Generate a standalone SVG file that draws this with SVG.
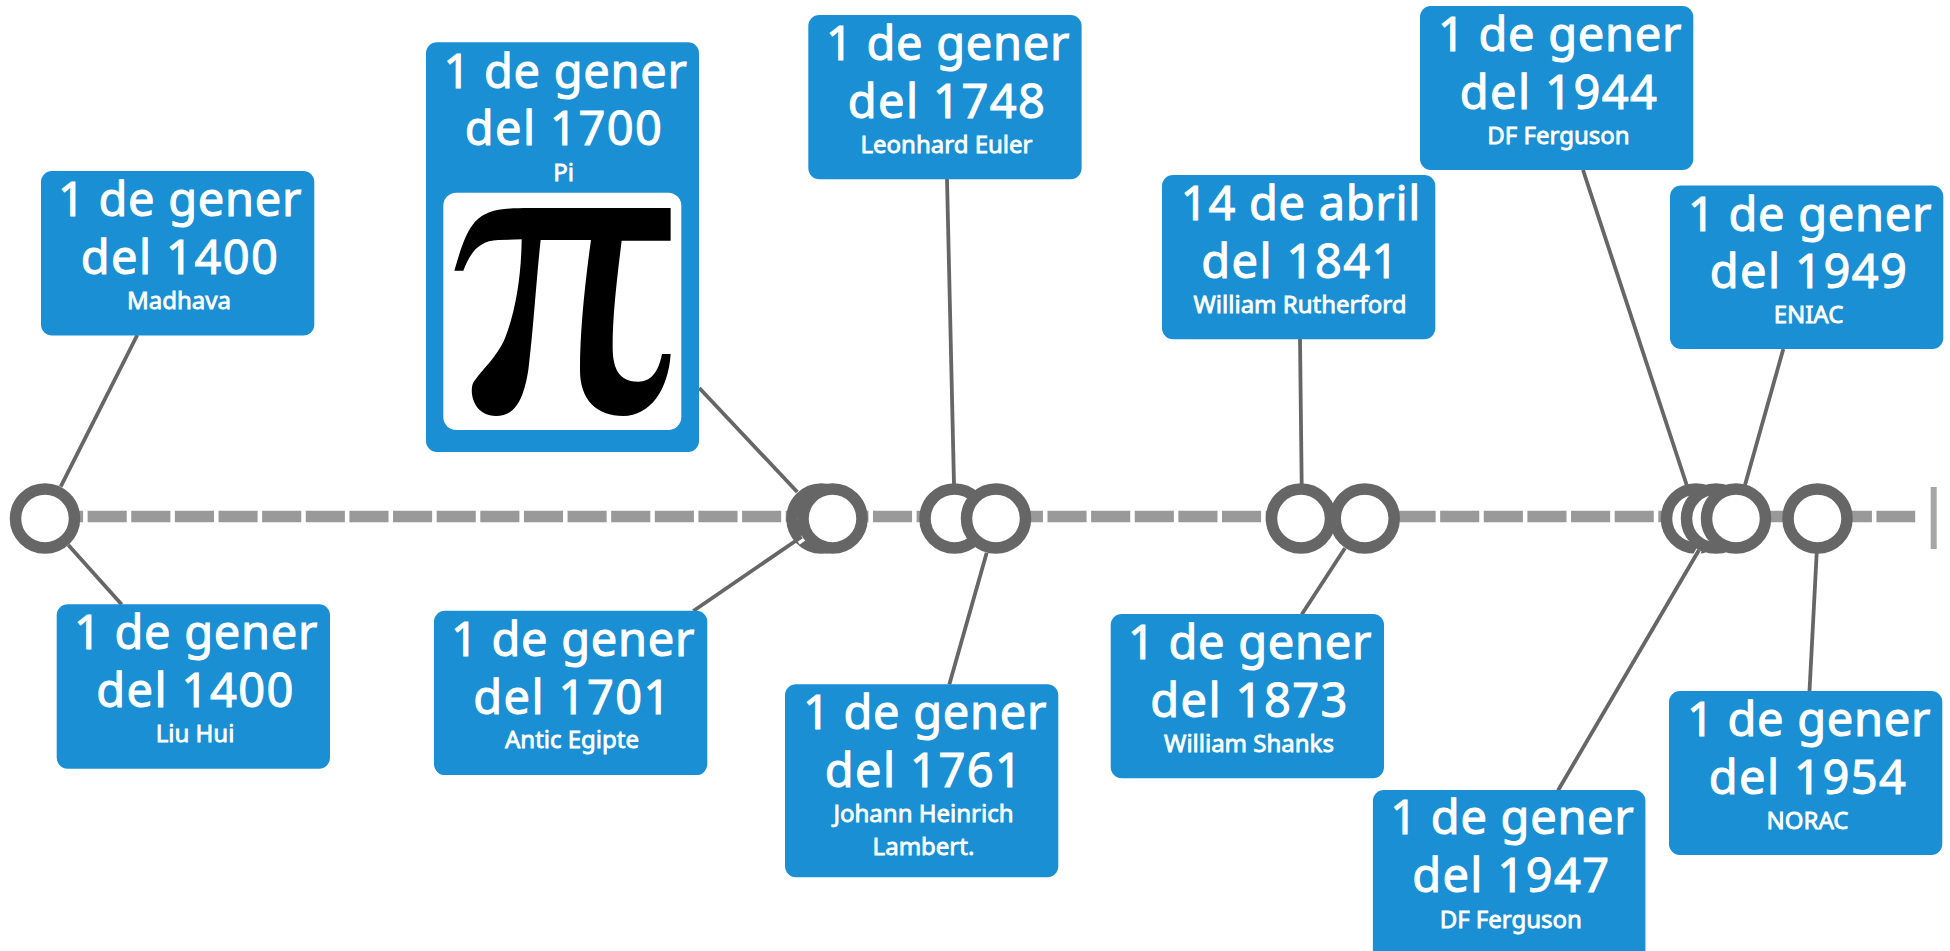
<svg xmlns="http://www.w3.org/2000/svg" width="1950" height="951" viewBox="0 0 1950 951">
<style>
.box{fill:#1a8fd3}
.big{font:47px "Noto Sans",sans-serif;fill:#fff;stroke:#fff;stroke-width:1;text-anchor:middle;letter-spacing:.7px;transform:translateY(1px)}
.yr{letter-spacing:1.4px}
.small{font:24px "Noto Sans",sans-serif;fill:#fff;stroke:#fff;stroke-width:.8;text-anchor:middle;transform:translateY(1.500px)}
.conn{stroke:#666;stroke-width:3.800;fill:none}
.halo{stroke:#fff;stroke-width:6;fill:none}
.ring{fill:#fff;stroke:#666;stroke-width:11.500}
</style>
<rect width="1950" height="951" fill="#fff"/>
<g id="timeline">
<path d="M44 516.500H1915.200" stroke="#999" stroke-width="11.600" stroke-dasharray="39.100 4.530" fill="none"/>
<path d="M1933.700 487V549" stroke="#a6a6a6" stroke-width="6"/>
</g>
<g id="markers-back">
<circle class="ring" cx="821.500" cy="518.500" r="29.500"/>
<circle class="ring" cx="954.500" cy="518.500" r="29.500"/>
<circle class="ring" cx="1301" cy="518.500" r="29.500"/>
<circle class="ring" cx="1696" cy="518.500" r="29.500"/>
</g>
<g id="connectors">
<path class="halo" d="M805 537L798 542"/><path class="halo" d="M1699 550L1689 568"/>
<path class="conn" d="M137.300 335L60.700 486.700"/><path class="conn" d="M68.300 545L121.700 604.500"/>
<path class="conn" d="M699.300 388L797.300 492"/><path class="conn" d="M801.700 536.700L693.300 611"/>
<path class="conn" d="M947 179L954 484"/><path class="conn" d="M986.700 552.700L949.300 684.500"/>
<path class="conn" d="M1300 339L1301.700 484"/><path class="conn" d="M1344.900 548.300L1301.700 614.500"/>
<path class="conn" d="M1583 170L1686.700 485"/><path class="conn" d="M1699 550L1558 790.500"/>
<path class="conn" d="M1783.300 349L1745 485"/><path class="conn" d="M1816.700 553L1809.500 691"/>
</g>
<g id="markers-front">
<circle class="ring" cx="45" cy="518.500" r="29.500"/>
<circle class="ring" cx="832.500" cy="518.500" r="29.500"/>
<circle class="ring" cx="996" cy="518.500" r="29.500"/>
<circle class="ring" cx="1364.700" cy="518.500" r="29.500"/>
<circle class="ring" cx="1716" cy="518.500" r="29.500"/>
<circle class="ring" cx="1736" cy="518.500" r="29.500"/>
<circle class="ring" cx="1817.500" cy="518.500" r="29.500"/>
</g>
<g id="n1"><rect class="box" x="41" y="171" width="273.300" height="164.400" rx="11"/><text class="big" x="180" y="215">1 de gener</text><text class="big yr" x="180" y="272.700">del 1400</text><text class="small" x="179" y="307">Madhava</text></g>
<g id="n2"><rect class="box" x="56.700" y="604.300" width="273.300" height="164.400" rx="11"/><text class="big" x="196" y="648.300">1 de gener</text><text class="big yr" x="195.500" y="706">del 1400</text><text class="small" x="195" y="740">Liu Hui</text></g>
<g id="n3"><rect class="box" x="426" y="42.300" width="273" height="409.700" rx="11"/><text class="big" x="565.500" y="86.700">1 de gener</text><text class="big yr" x="564" y="144">del 1700</text><text class="small" x="563.700" y="179">Pi</text>
<rect x="443.300" y="192.700" width="238" height="237.300" rx="13" fill="#fff"/>
<path transform="translate(420 30) scale(.3333)" fill="#000" d="M103 722H130C150 670 175 632 235 630L305 628C304 720 292 830 255 925C230 985 175 1030 158 1062C148 1095 165 1158 228 1158C290 1158 312 1100 325 1020C340 900 348 760 362 630H513C495 760 480 900 480 1020C480 1110 530 1158 610 1158C690 1158 745 1080 752 972H726C715 1030 690 1055 655 1055C600 1055 578 1020 578 950C578 850 592 740 605 632H752V534H330C240 534 200 540 165 575C135 610 120 665 103 722Z"/></g>
<g id="n4"><rect class="box" x="434" y="610.700" width="273.300" height="164.400" rx="11"/><text class="big" x="573" y="654.500">1 de gener</text><text class="big yr" x="572.500" y="712.500">del 1701</text><text class="small" x="572" y="746.500">Antic Egipte</text></g>
<g id="n5"><rect class="box" x="808.300" y="15" width="273.300" height="164.300" rx="11"/><text class="big" x="948" y="59">1 de gener</text><text class="big yr" x="947" y="116.700">del 1748</text><text class="small" x="946.500" y="151">Leonhard Euler</text></g>
<g id="n6"><rect class="box" x="785" y="684.300" width="273.300" height="193" rx="11"/><text class="big" x="925" y="727.500">1 de gener</text><text class="big yr" x="924" y="786">del 1761</text><text class="small" x="923.500" y="820.700">Johann Heinrich</text><text class="small" x="923.500" y="853.300">Lambert.</text></g>
<g id="n7"><rect class="box" x="1162" y="175" width="273.300" height="164.300" rx="11"/><text class="big" x="1301" y="219">14 de abril</text><text class="big yr" x="1300.500" y="276.700">del 1841</text><text class="small" x="1300" y="311">William Rutherford</text></g>
<g id="n8"><rect class="box" x="1110.700" y="614" width="273.300" height="164.300" rx="11"/><text class="big" x="1250" y="658">1 de gener</text><text class="big yr" x="1249.500" y="715.700">del 1873</text><text class="small" x="1249" y="750">William Shanks</text></g>
<g id="n9"><rect class="box" x="1420" y="6" width="273.300" height="164" rx="11"/><text class="big" x="1560" y="50">1 de gener</text><text class="big yr" x="1559" y="107.500">del 1944</text><text class="small" x="1558.500" y="142">DF Ferguson</text></g>
<g id="n10"><rect class="box" x="1372.900" y="790" width="272.500" height="175" rx="11"/><text class="big" x="1512.400" y="833.300">1 de gener</text><text class="big yr" x="1511.400" y="890.700">del 1947</text><text class="small" x="1510.800" y="926.700">DF Ferguson</text></g>
<g id="n11"><rect class="box" x="1670" y="185.500" width="273.300" height="163.500" rx="11"/><text class="big" x="1810" y="229.500">1 de gener</text><text class="big yr" x="1809" y="287">del 1949</text><text class="small" x="1808.500" y="321.500">ENIAC</text></g>
<g id="n12"><rect class="box" x="1669" y="691" width="273.300" height="164" rx="11"/><text class="big" x="1809" y="735">1 de gener</text><text class="big yr" x="1808" y="792.500">del 1954</text><text class="small" x="1807.500" y="827">NORAC</text></g>
</svg>
